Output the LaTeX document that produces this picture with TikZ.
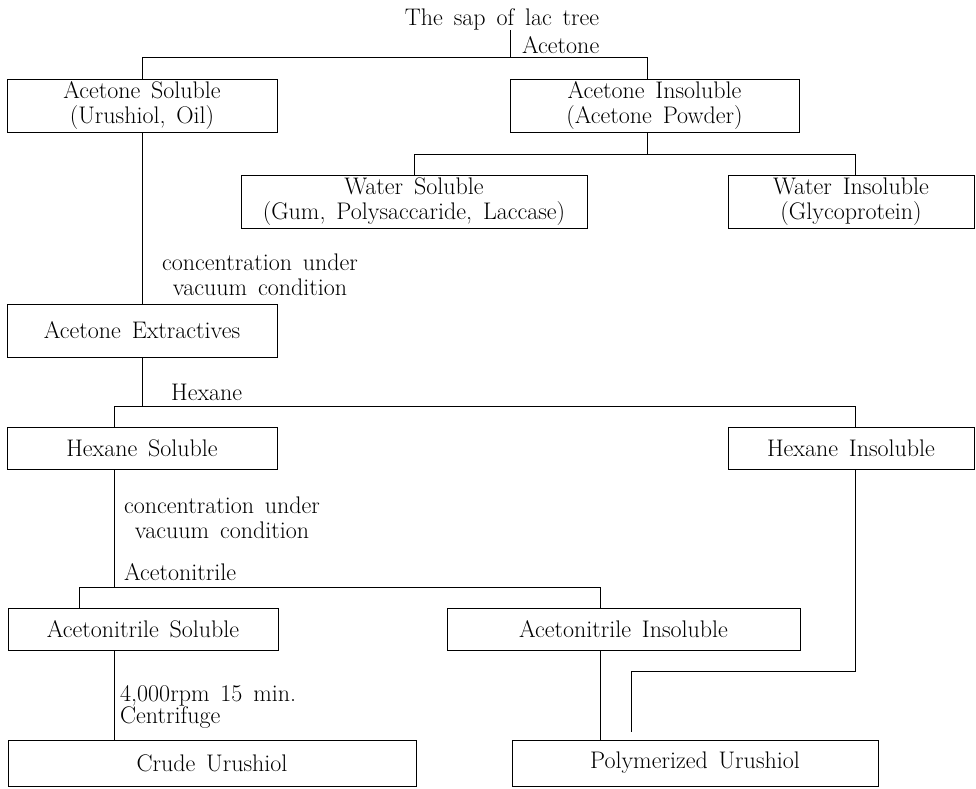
\documentclass[tikz,border=0pt]{standalone}
\usepackage{fontspec}
\setmainfont{Latin Modern Roman}[WordSpace=1.5]
\usepackage{tikz}
\usetikzlibrary{positioning,calc}
\tikzset{
    procbox/.style={draw=black, line width=1pt, minimum height=53pt, inner sep=0pt, align=center, font=\fontsize{24}{25}\selectfont},
    lbl/.style={inner sep=0pt, font=\fontsize{24}{24.5}\selectfont},
    link/.style={draw=black, line width=1pt}
}

\begin{document}
\begin{tikzpicture}[x=1pt, y=-1pt]
    \useasboundingbox (0,0) rectangle (976,788);
    % Start
    \node[lbl] (sap) at (502,19) {The sap of lac tree};
    \coordinate (top) at (510,57);
    \coordinate (topR) at (647,57);
    \node[lbl, anchor=west] (acelbl) at (522,45) {Acetone};
    % Acetone
    \node[procbox, minimum width=270pt] (as) at (142,105.5) {Acetone Soluble\\(Urushiol, Oil)};
    \node[procbox, minimum width=289pt] (ai) at (654.5,105.5) {Acetone Insoluble\\(Acetone Powder)};
    \coordinate (wJ) at (647,154);
    \coordinate (wiR) at (855,154);
    % Water
    \node[procbox, minimum width=346pt] (ws) at (414,202) {Water Soluble\\(Gum, Polysaccaride, Laccase)};
    \node[procbox, minimum width=246pt] (wi) at (851,201.5) {Water Insoluble\\(Glycoprotein)};
    % Extractives
    \node[lbl, align=center] (vac1) at (260,275) {concentration under\\vacuum condition};
    \node[procbox, minimum width=270pt] (ae) at (142,330.5) {Acetone Extractives};
    \coordinate (hexJ) at (142,406);
    \coordinate (hsL) at (114,406);
    \coordinate (hiR) at (855,406);
    \node[lbl, anchor=west] (hexlbl) at (171,392) {Hexane};
    % Hexane
    \node[procbox, minimum width=270pt, minimum height=42pt] (hs) at (142,448) {Hexane Soluble};
    \node[procbox, minimum width=246pt, minimum height=42pt] (hi) at (851,448) {Hexane Insoluble};
    \node[lbl, align=center] (vac2) at (222,518) {concentration under\\vacuum condition};
    \node[lbl, anchor=west] (acnlbl) at (124,572) {Acetonitrile};
    \coordinate (acnJ) at (114,587);
    \coordinate (csL) at (79,587);
    \coordinate (ciR) at (600,587);
    % Acetonitrile
    \node[procbox, minimum width=270pt, minimum height=42pt] (cs) at (143,629) {Acetonitrile Soluble};
    \node[procbox, minimum width=353pt, minimum height=42pt] (ci) at (623.5,629) {Acetonitrile Insoluble};
    \node[lbl, align=left, anchor=west, font=\fontsize{24}{22}\selectfont] (cent) at (120,707) {4,000rpm 15 min.\\Centrifuge};
    \coordinate (hook1) at (855,671);
    \coordinate (hook2) at (631,671);
    % Urushiol
    \node[procbox, minimum width=408pt, minimum height=46pt] (cu) at (212,763) {Crude Urushiol};
    \node[procbox, minimum width=366pt, minimum height=46pt] (pu) at (695,763) {Polymerized Urushiol};

    % lines
    \draw[link] (sap.south -| top) -- (top);
    \draw[link] (as.north) |- (topR) -- (topR |- ai.north);
    \draw[link] (wJ |- ai.south) -- (wJ);
    \draw[link] (ws.north) |- (wiR) -- (wiR |- wi.north);
    \draw[link] (as.south) -- (ae.north);
    \draw[link] (ae.south) -- (hexJ);
    \draw[link] (hsL |- hs.north) -- (hsL) -- (hiR) -- (hiR |- hi.north);
    \draw[link] (hsL |- hs.south) -- (acnJ);
    \draw[link] (csL |- cs.north) -- (csL) -- (ciR) -- (ciR |- ci.north);
    \draw[link] (acnJ |- cs.south) -- (acnJ |- cu.north);
    \draw[link] (ciR |- ci.south) -- (ciR |- pu.north);
    \draw[link] (hiR |- hi.south) -- (hook1) -- (hook2) -- ([yshift=8pt]hook2 |- pu.north);
\end{tikzpicture}
\end{document}
